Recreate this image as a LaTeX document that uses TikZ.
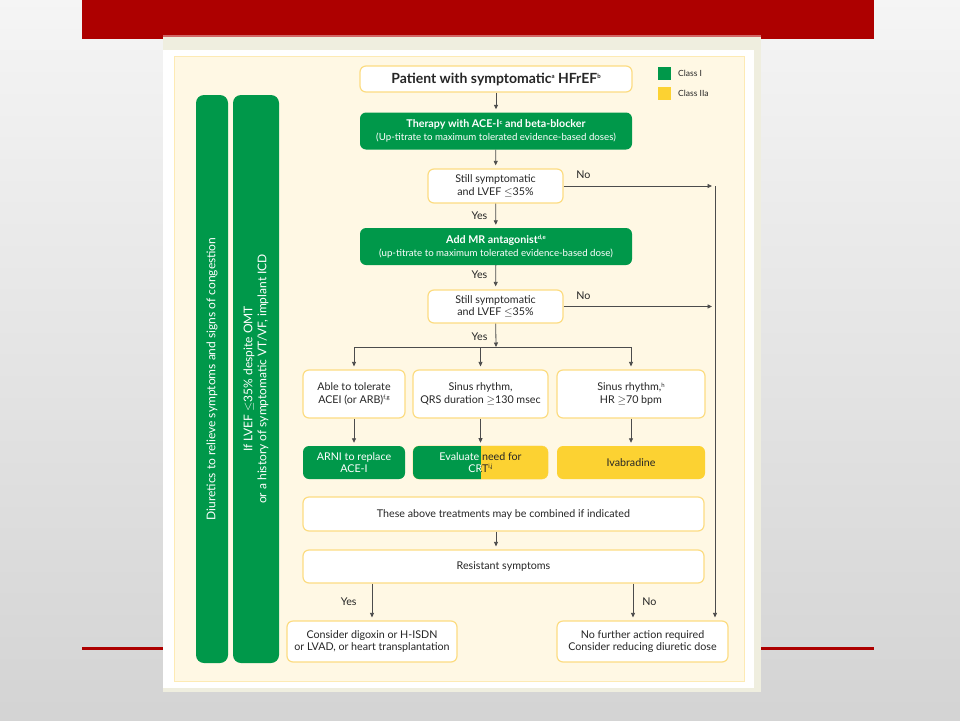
\documentclass[tikz,border=0pt]{standalone}
\usepackage{fontspec}
\setmainfont{Lato}
\usetikzlibrary{arrows.meta}
\definecolor{escgreen}{HTML}{00984A}
\definecolor{escyellow}{HTML}{FCD232}
\definecolor{escline}{HTML}{FCDC82}
\definecolor{panelfill}{HTML}{FFF8E4}
\definecolor{framebeige}{HTML}{EFEEDF}
\definecolor{slidered}{HTML}{AD0000}
\definecolor{txt}{HTML}{262626}
\newcommand{\sups}[1]{\raisebox{0.7ex}{\fontsize{6}{6}\selectfont #1}}

\begin{document}
\begin{tikzpicture}[x=1pt,y=-1pt,>={Triangle[length=4.5pt,width=4pt]},
  box/.style={draw=escline,line width=1.2pt,fill=white,rounded corners=6pt,align=center,
    text=txt,font=\fontsize{10.7}{12.5}\selectfont,inner sep=1pt},
  gbox/.style={fill=escgreen,rounded corners=6pt,align=center,text=white,
    font=\fontsize{10.7}{12.5}\selectfont,inner sep=1pt},
  ybox/.style={fill=escyellow,rounded corners=6pt,align=center,text=txt,
    font=\fontsize{10.7}{12.5}\selectfont,inner sep=1pt},
  bar/.style={fill=escgreen,rounded corners=8pt,align=center,text=white,rotate=90,
    font=\fontsize{12}{14}\selectfont,inner sep=0pt,minimum width=568pt},
  flow/.style={->,draw=black!70,line width=0.8pt,shorten >=3pt},
  lbl/.style={font=\fontsize{10.7}{12.5}\selectfont,text=txt,inner sep=1pt}]

  % slide
  \useasboundingbox (0,0) rectangle (960,720);
  \shade[top color=black!4,bottom color=black!17] (0,0) rectangle (960,720);
  \fill[slidered] (82,0) rectangle (874,39);
  \fill[slidered] (82,647) rectangle (874,650);

  % figure frame
  \fill[framebeige] (163,36) rectangle (761,692);
  \fill[red!70!black!60] (163,35) rectangle (761,37);
  \fill[white] (163,50) rectangle (754,688);
  \draw[fill=panelfill,draw=escline!60,line width=0.8pt] (174,56) rectangle (744,681);

  % side bars
  \node[bar,minimum height=32pt] (diur) at (212,379)
    {Diuretics to relieve symptoms and signs of congestion};
  \node[bar,minimum height=46pt] (icd) at (256,379)
    {If LVEF \ensuremath{\leq}35\% despite OMT\\or a history of symptomatic VT/VF, implant ICD};

  % legend
  \fill[escgreen] (658,67) rectangle (671,80);
  \node[lbl,anchor=west,font=\fontsize{8.5}{10}\selectfont] (cl1) at (677,73.5) {Class I};
  \fill[escyellow] (658,87) rectangle (671,100);
  \node[lbl,anchor=west,font=\fontsize{8.5}{10}\selectfont] (cl2) at (677,93.5) {Class IIa};

  % main column
  \node[box,minimum width=272pt,minimum height=26pt,font=\bfseries\fontsize{14}{16}\selectfont]
    (patient) at (496,79) {Patient with symptomatic\sups{a} HFrEF\sups{b}};
  \node[gbox,minimum width=272pt,minimum height=37pt] (therapy) at (496,131)
    {\textbf{Therapy with ACE-I\sups{c} and beta-blocker}\\
     {\fontsize{9.7}{11.5}\selectfont(Up-titrate to maximum tolerated evidence-based doses)}};
  \node[box,minimum width=135pt,minimum height=34pt] (still1) at (495.5,186)
    {Still symptomatic\\and LVEF \ensuremath{\leq}35\%};
  \node[gbox,minimum width=272pt,minimum height=37pt] (mra) at (496,246.5)
    {\textbf{Add MR antagonist\sups{d,e}}\\
     {\fontsize{9.7}{11.5}\selectfont(up-titrate to maximum tolerated evidence-based dose)}};
  \node[box,minimum width=135pt,minimum height=33pt] (still2) at (495.5,306.5)
    {Still symptomatic\\and LVEF \ensuremath{\leq}35\%};

  % three branches
  \node[box,minimum width=102pt,minimum height=48pt] (tol) at (354,394)
    {Able to tolerate\\ACEI (or ARB)\sups{f,g}};
  \node[box,minimum width=135pt,minimum height=48pt] (qrs) at (480.5,394)
    {Sinus rhythm,\\QRS duration \ensuremath{\geq}130 msec};
  \node[box,minimum width=148pt,minimum height=48pt] (hr) at (631,394)
    {Sinus rhythm,\sups{h}\\HR \ensuremath{\geq}70 bpm};
  \node[gbox,minimum width=102pt,minimum height=33pt] (arni) at (354,462.5)
    {ARNI to replace\\ACE-I};
  \node[draw=escline,line width=0.6pt,rounded corners=6pt,minimum width=135pt,
    minimum height=33pt] (crt) at (480.5,462.5) {};
  \begin{scope}
    \clip (413,444) rectangle (481,481);
    \fill[escgreen,rounded corners=6pt] (413,446) rectangle (548,479);
    \node[align=center,text=white,font=\fontsize{10.7}{12.5}\selectfont,inner sep=1pt]
      at (crt) {Evaluate need for\\CRT\sups{i,j}};
  \end{scope}
  \begin{scope}
    \clip (481,444) rectangle (550,481);
    \fill[escyellow,rounded corners=6pt] (413,446) rectangle (548,479);
    \node[align=center,text=txt,font=\fontsize{10.7}{12.5}\selectfont,inner sep=1pt]
      at (crt) {Evaluate need for\\CRT\sups{i,j}};
  \end{scope}
  \node[ybox,minimum width=148pt,minimum height=33pt] (ivab) at (631,462.5) {Ivabradine};

  \node[box,minimum width=401pt,minimum height=34pt] (comb) at (503.5,514)
    {These above treatments may be combined if indicated};
  \node[box,minimum width=401pt,minimum height=33pt] (resist) at (503.5,566.5)
    {Resistant symptoms};
  \node[box,minimum width=170pt,minimum height=41pt] (dig) at (372,641.5)
    {Consider digoxin or H-ISDN\\or LVAD, or heart transplantation};
  \node[box,minimum width=171pt,minimum height=41pt] (nofurther) at (642.5,641.5)
    {No further action required\\Consider reducing diuretic dose};

  % connectors
  \coordinate (split) at (496,347);
  \coordinate (trunk) at (715,186);
  \coordinate (nocol) at (633,600);
  \draw[flow] (patient) -- (therapy);
  \draw[flow] (therapy) -- (still1);
  \draw[flow] (still1) -- node[lbl,left=7pt] {Yes} (mra);
  \draw[flow] (mra) -- node[lbl,left=7pt,pos=0.4] {Yes} (still2);
  \draw[flow] (still1.east) -- node[lbl,above=6pt,pos=0.13] {No} (still1.east -| trunk);
  \draw[flow] (still2.east) -- node[lbl,above=6pt,pos=0.13] {No} (still2.east -| trunk);
  \draw[flow] (trunk) -- (trunk |- nofurther.north);
  \draw[flow,shorten >=0pt] (still2) -- node[lbl,left=7pt,pos=0.55] {Yes} (split);
  \draw[black!70,line width=0.8pt] (split -| tol) -- (split -| hr);
  \draw[flow] (split -| tol) -- (tol);
  \draw[flow] (split -| qrs) -- (qrs);
  \draw[flow] (split -| hr) -- (hr);
  \draw[flow] (tol) -- (arni);
  \draw[flow] (qrs) -- (crt);
  \draw[flow] (hr) -- (ivab);
  \draw[flow] (comb.south -| split) -- (resist.north -| split);
  \draw[flow] (resist.south -| dig) -- node[lbl,left=14pt] {Yes} (dig);
  \draw[flow] (resist.south -| nocol) -- node[lbl,right=8pt] {No} (nofurther.north -| nocol);
\end{tikzpicture}
\end{document}
